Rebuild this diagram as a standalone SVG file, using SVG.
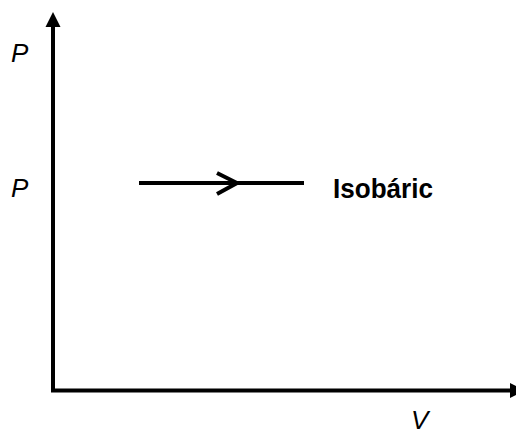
<svg xmlns="http://www.w3.org/2000/svg" width="516" height="435" viewBox="0 0 516 435">
<style>
.ax{stroke:#000;stroke-width:4;fill:none}
.lbl{font-family:"Liberation Sans",Arial,sans-serif;font-style:italic;font-size:26px;fill:#000}
.bold{font-family:"Liberation Sans",Arial,sans-serif;font-weight:bold;font-size:28px;fill:#000}
</style>
<rect width="516" height="435" fill="#fff"/>
<g id="connectors">
<path class="ax" d="M53,390.5 V25"/>
<polygon points="53,12 45.5,27 60.5,27" fill="#000"/>
<path class="ax" d="M51,390.5 H512"/>
<polygon points="525,390.5 510,383 510,398" fill="#000"/>
<path class="ax" d="M139,183 H304"/>
<polyline class="ax" points="217,173 237,183 217,194" stroke-linejoin="miter" stroke-width="4.5"/>
</g>
<g id="labels">
<text class="lbl" x="11" y="62">P</text>
<text class="lbl" x="11" y="197">P</text>
<text class="lbl" x="411" y="429">V</text>
<text id="isobaric" class="bold" x="333" y="198" textLength="100" lengthAdjust="spacingAndGlyphs">Isobáric</text>
</g>
</svg>
